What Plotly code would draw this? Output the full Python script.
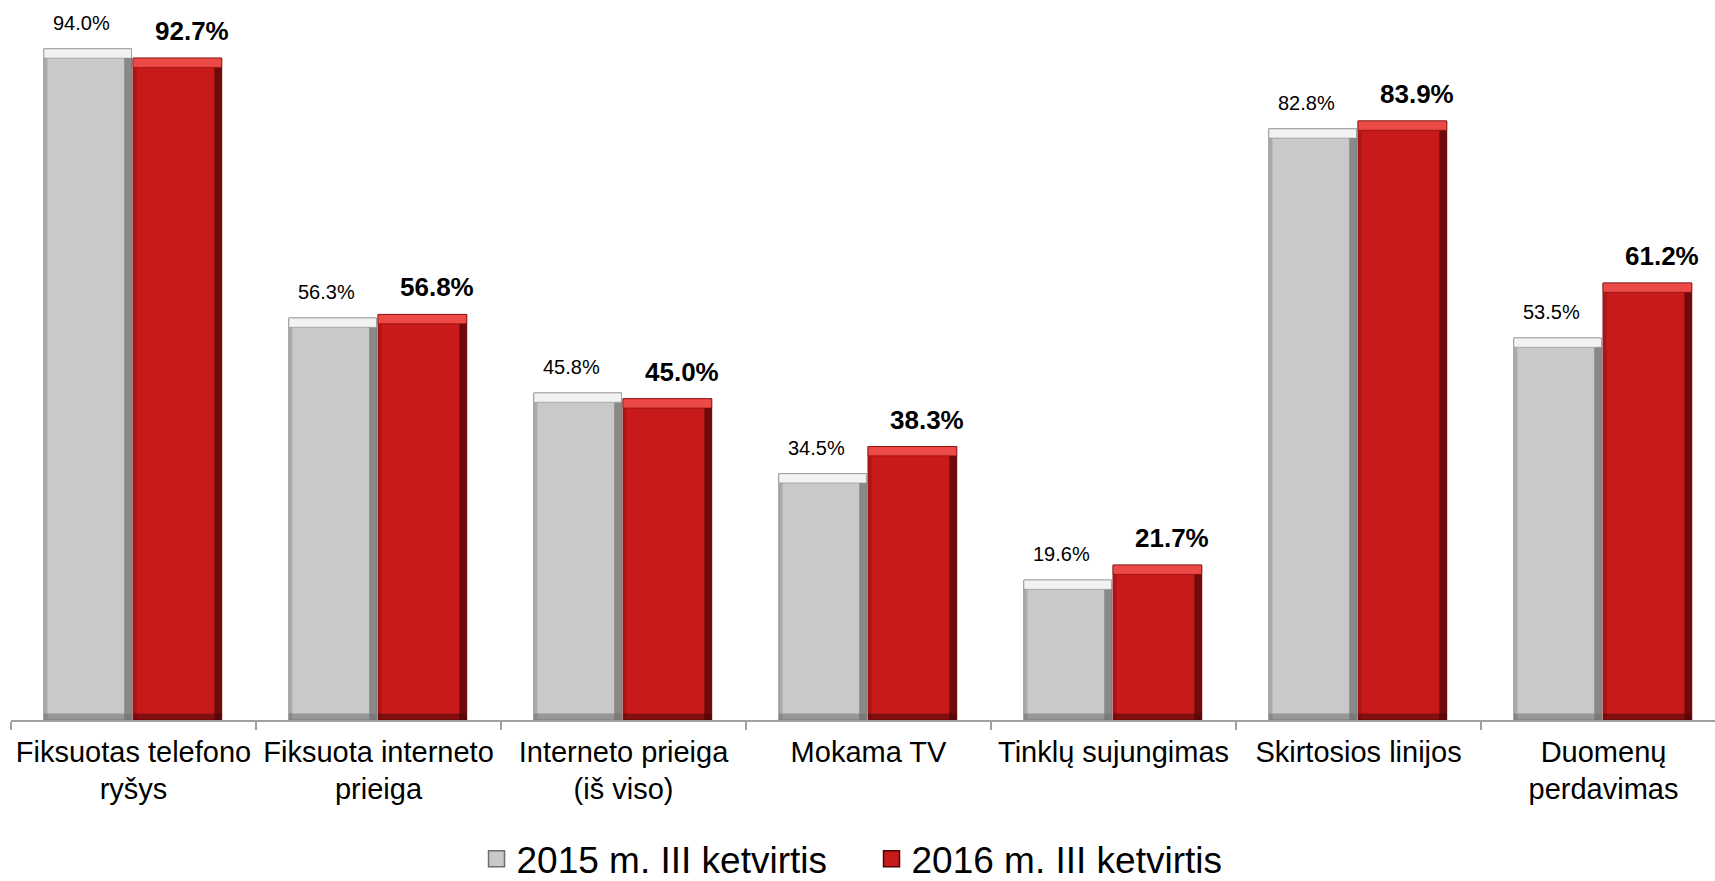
import plotly.graph_objects as go

categories = [
    "Fiksuotas telefono<br>ryšys",
    "Fiksuota interneto<br>prieiga",
    "Interneto prieiga<br>(iš viso)",
    "Mokama TV",
    "Tinklų sujungimas",
    "Skirtosios linijos",
    "Duomenų<br>perdavimas",
]
series_2015_name = "2015 m. III ketvirtis"
series_2016_name = "2016 m. III ketvirtis"
values_2015 = [94.0, 56.3, 45.8, 34.5, 19.6, 82.8, 53.5]
values_2016 = [92.7, 56.8, 45.0, 38.3, 21.7, 83.9, 61.2]

FONT = "Liberation Sans, Arial, sans-serif"

styles = {
    "2015": dict(main="#c9c9c9", light="#f2f2f2", dark="#6e6e6e", left="#9a9a9a",
                 line="#8a8a8a", offset=-0.366, width=0.358),
    "2016": dict(main="#c8191b", light="#ec4a46", dark="#4a0505", left="#a01214",
                 line="#7a0c0c", offset=-0.002, width=0.362),
}

fig = go.Figure()
top_strip = 1.3    # bevel thickness in value units
edge = 0.03        # side bevel in category units

for key, name, vals in [("2015", series_2015_name, values_2015),
                        ("2016", series_2016_name, values_2016)]:
    s = styles[key]
    n = len(vals)
    # main body
    fig.add_trace(go.Bar(
        x=categories, y=vals, name=name,
        offset=s["offset"], width=s["width"],
        marker=dict(color=s["main"], line=dict(color=s["line"], width=1)),
        showlegend=False, hoverinfo="skip",
    ))
    # right shaded side
    fig.add_trace(go.Bar(
        x=categories, y=[v - top_strip for v in vals],
        offset=s["offset"] + s["width"] - edge, width=edge,
        marker=dict(color=s["dark"], line=dict(width=0), opacity=0.7),
        showlegend=False, hoverinfo="skip",
    ))
    # left side
    fig.add_trace(go.Bar(
        x=categories, y=[v - top_strip for v in vals],
        offset=s["offset"], width=edge * 0.5,
        marker=dict(color=s["left"], line=dict(width=0), opacity=0.6),
        showlegend=False, hoverinfo="skip",
    ))
    # top highlight strip
    fig.add_trace(go.Bar(
        x=categories, y=[top_strip] * n, base=[v - top_strip for v in vals],
        offset=s["offset"], width=s["width"],
        marker=dict(color=s["light"], line=dict(color=s["line"], width=0.6)),
        showlegend=False, hoverinfo="skip",
    ))
    # bottom dark strip
    fig.add_trace(go.Bar(
        x=categories, y=[0.9] * n, base=[0] * n,
        offset=s["offset"], width=s["width"],
        marker=dict(color=s["dark"], line=dict(width=0), opacity=0.55),
        showlegend=False, hoverinfo="skip",
    ))
    # legend entry with a larger square swatch
    fig.add_trace(go.Scatter(
        x=[None], y=[None], mode="markers", name=name,
        marker=dict(symbol="square", size=16, color=s["main"],
                    line=dict(color=s["dark"], width=1.5)),
        showlegend=True, hoverinfo="skip",
    ))

annotations = []
for cat, v in zip(categories, values_2015):
    annotations.append(dict(
        x=cat, y=v, xref="x", yref="y", text=f"{v:.1f}%",
        showarrow=False, yanchor="bottom", xanchor="center",
        xshift=-52, yshift=13,
        font=dict(family=FONT, size=20, color="#000000"),
    ))
for cat, v in zip(categories, values_2016):
    annotations.append(dict(
        x=cat, y=v, xref="x", yref="y", text=f"<b>{v:.1f}%</b>",
        showarrow=False, yanchor="bottom", xanchor="center",
        xshift=58, yshift=10,
        font=dict(family=FONT, size=26, color="#000000"),
    ))

fig.update_layout(
    width=1715, height=881,
    margin=dict(l=11, r=0, t=6, b=161, autoexpand=False),
    barmode="overlay",
    plot_bgcolor="white", paper_bgcolor="white",
    font=dict(family=FONT, color="#000000"),
    annotations=annotations,
    legend=dict(
        orientation="h", x=0.505, xanchor="center", y=-0.195, yanchor="middle",
        font=dict(family=FONT, size=37, color="#000000"),
        traceorder="normal", entrywidth=350,
    ),
    showlegend=True,
)
fig.update_xaxes(
    type="category", range=[-0.5, 6.455],
    showline=True, linecolor="#a0a0a0", linewidth=1.5,
    ticks="outside", tickson="boundaries", ticklen=8, tickcolor="#a0a0a0", tickwidth=1.5,
    tickfont=dict(family=FONT, size=29, color="#000000"),
    ticklabelstandoff=5,
    showgrid=False, zeroline=False,
)
fig.update_yaxes(
    range=[0, 100], visible=False, showgrid=False, zeroline=False,
)

fig.write_html("out.html", config={"displayModeBar": False},
               post_script="document.body.style.margin='0px';")
